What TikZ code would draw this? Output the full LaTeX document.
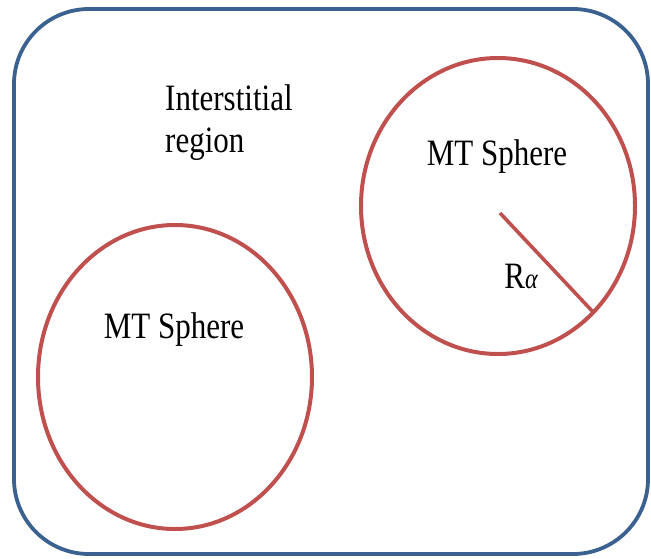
\documentclass[tikz,border=0pt]{standalone}
\usepackage{fontspec}
\setmainfont{Liberation Serif}
\definecolor{boxblue}{HTML}{3B6190}
\definecolor{sphred}{HTML}{C0504D}
\tikzset{
  lbl/.style={inner sep=0pt, font=\fontsize{31}{38}\selectfont},
  sphere/.style={draw=sphred, line width=4pt},
}
\newcommand{\tall}[1]{\scalebox{1}[1.2]{#1}}
\begin{document}
\begin{tikzpicture}[x=1pt,y=-1pt]
\useasboundingbox (0,0) rectangle (651,558);
\draw[boxblue, line width=3.8pt, rounded corners=75pt] (14,9) rectangle (648,554);
\draw[sphere] (498,206) ellipse [x radius=137, y radius=148];
\draw[sphere] (175,377) ellipse [x radius=137, y radius=152];
\coordinate (c) at (500,213);
\coordinate (e) at (594,313);
\draw[sphred, line width=3.6pt] (c) -- (e);
\node[lbl, anchor=north west, align=left] (ir) at (165,84) {\tall{Interstitial}\\[4pt]\tall{region}};
\node[lbl] (s1) at (497,157) {\tall{MT Sphere}};
\node[lbl] (s2) at (174,330) {\tall{MT Sphere}};
\node[lbl] (ra) at (521,276) {\tall{R{\itshape\fontsize{24}{28}\selectfont α}}};
\end{tikzpicture}
\end{document}
